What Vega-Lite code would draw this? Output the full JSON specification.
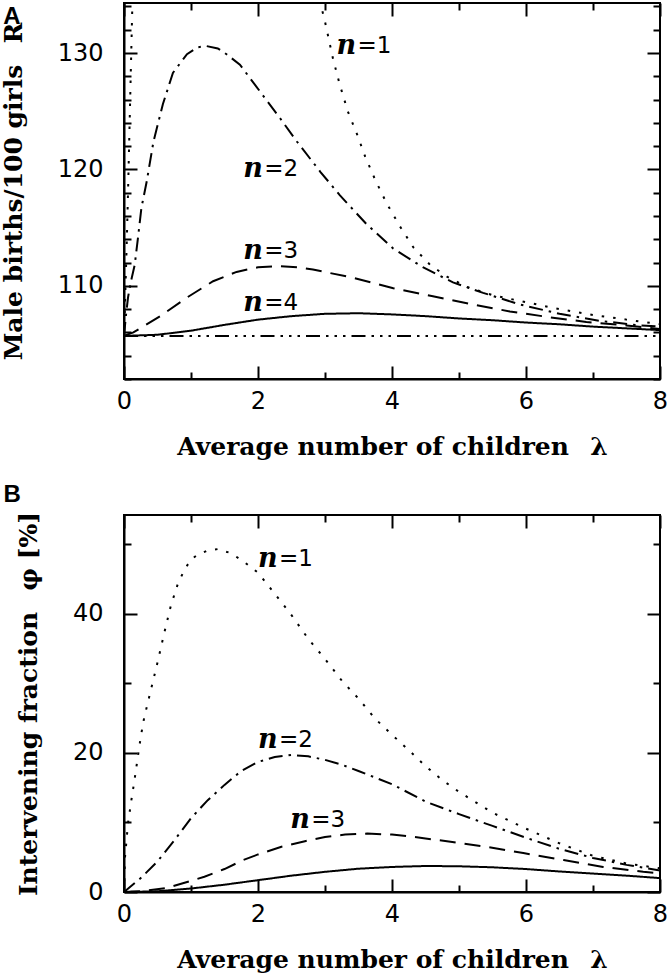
{
  "$schema": "https://vega.github.io/schema/vega-lite/v6.json",
  "background": "white",
  "padding": {"left": 0, "top": 1, "right": 5, "bottom": 0},
  "spacing": 22,
  "config": {
    "view": {"stroke": "black", "strokeWidth": 2},
    "axis": {
      "grid": false,
      "domainColor": "black",
      "domainWidth": 2,
      "tickColor": "black",
      "tickWidth": 2,
      "labelColor": "black",
      "labelFont": "DejaVu Sans",
      "labelFontSize": 24,
      "labelFlush": false,
      "labelOverlap": false,
      "titleColor": "black",
      "titleFont": "DejaVu Serif",
      "titleFontSize": 25,
      "titleFontWeight": "bold"
    }
  },
  "datasets": {
    "curvesA": [
      {"series": "n=1", "lam": 0, "R": 105.7}, {"series": "n=1", "lam": 0.01, "R": 107.5}, {"series": "n=1", "lam": 0.02, "R": 109.5}, {"series": "n=1", "lam": 0.04, "R": 113.5}, {"series": "n=1", "lam": 0.06, "R": 118}, {"series": "n=1", "lam": 0.08, "R": 123}, {"series": "n=1", "lam": 0.1, "R": 128}, {"series": "n=1", "lam": 0.12, "R": 133}, {"series": "n=1", "lam": 0.15, "R": 140}, {"series": "n=1", "lam": 2.85, "R": 140}, {"series": "n=1", "lam": 2.93, "R": 134.3}, {"series": "n=1", "lam": 3.0, "R": 132.7}, {"series": "n=1", "lam": 3.12, "R": 129.5}, {"series": "n=1", "lam": 3.22, "R": 127.3}, {"series": "n=1", "lam": 3.34, "R": 125.0}, {"series": "n=1", "lam": 3.48, "R": 123.0}, {"series": "n=1", "lam": 3.6, "R": 121.1}, {"series": "n=1", "lam": 3.75, "R": 119.1}, {"series": "n=1", "lam": 3.92, "R": 117.1}, {"series": "n=1", "lam": 4.12, "R": 115.1}, {"series": "n=1", "lam": 4.32, "R": 113.3}, {"series": "n=1", "lam": 4.57, "R": 111.8}, {"series": "n=1", "lam": 4.82, "R": 110.8}, {"series": "n=1", "lam": 5.12, "R": 109.9}, {"series": "n=1", "lam": 5.5, "R": 109.2}, {"series": "n=1", "lam": 6.0, "R": 108.6}, {"series": "n=1", "lam": 6.5, "R": 108.0}, {"series": "n=1", "lam": 7.0, "R": 107.5}, {"series": "n=1", "lam": 7.5, "R": 107.1}, {"series": "n=1", "lam": 8.0, "R": 106.7},
      {"series": "n=2", "lam": 0, "R": 105.7}, {"series": "n=2", "lam": 0.03, "R": 107.5}, {"series": "n=2", "lam": 0.06, "R": 109}, {"series": "n=2", "lam": 0.1, "R": 110.3}, {"series": "n=2", "lam": 0.16, "R": 111.8}, {"series": "n=2", "lam": 0.21, "R": 114.2}, {"series": "n=2", "lam": 0.26, "R": 116.7}, {"series": "n=2", "lam": 0.34, "R": 119.0}, {"series": "n=2", "lam": 0.44, "R": 122.4}, {"series": "n=2", "lam": 0.58, "R": 125.6}, {"series": "n=2", "lam": 0.73, "R": 128.3}, {"series": "n=2", "lam": 0.94, "R": 129.9}, {"series": "n=2", "lam": 1.1, "R": 130.5}, {"series": "n=2", "lam": 1.23, "R": 130.6}, {"series": "n=2", "lam": 1.4, "R": 130.4}, {"series": "n=2", "lam": 1.53, "R": 129.9}, {"series": "n=2", "lam": 1.73, "R": 129.0}, {"series": "n=2", "lam": 2.03, "R": 126.7}, {"series": "n=2", "lam": 2.33, "R": 124.4}, {"series": "n=2", "lam": 2.58, "R": 122.4}, {"series": "n=2", "lam": 2.93, "R": 119.8}, {"series": "n=2", "lam": 3.22, "R": 117.8}, {"series": "n=2", "lam": 3.62, "R": 115.3}, {"series": "n=2", "lam": 4.02, "R": 113.2}, {"series": "n=2", "lam": 4.46, "R": 111.6}, {"series": "n=2", "lam": 4.91, "R": 110.3}, {"series": "n=2", "lam": 5.36, "R": 109.4}, {"series": "n=2", "lam": 5.91, "R": 108.4}, {"series": "n=2", "lam": 6.5, "R": 107.6}, {"series": "n=2", "lam": 7.1, "R": 107.0}, {"series": "n=2", "lam": 7.7, "R": 106.6}, {"series": "n=2", "lam": 8.0, "R": 106.5},
      {"series": "n=3", "lam": 0, "R": 105.7}, {"series": "n=3", "lam": 0.14, "R": 106.0}, {"series": "n=3", "lam": 0.54, "R": 107.4}, {"series": "n=3", "lam": 0.94, "R": 109.0}, {"series": "n=3", "lam": 1.33, "R": 110.4}, {"series": "n=3", "lam": 1.68, "R": 111.2}, {"series": "n=3", "lam": 2.0, "R": 111.6}, {"series": "n=3", "lam": 2.3, "R": 111.7}, {"series": "n=3", "lam": 2.6, "R": 111.6}, {"series": "n=3", "lam": 2.82, "R": 111.4}, {"series": "n=3", "lam": 3.42, "R": 110.7}, {"series": "n=3", "lam": 4.02, "R": 109.8}, {"series": "n=3", "lam": 4.61, "R": 109.1}, {"series": "n=3", "lam": 5.21, "R": 108.4}, {"series": "n=3", "lam": 5.76, "R": 107.8}, {"series": "n=3", "lam": 6.36, "R": 107.3}, {"series": "n=3", "lam": 6.9, "R": 106.9}, {"series": "n=3", "lam": 7.5, "R": 106.6}, {"series": "n=3", "lam": 8.0, "R": 106.3},
      {"series": "n=4", "lam": 0, "R": 105.7}, {"series": "n=4", "lam": 0.5, "R": 105.8}, {"series": "n=4", "lam": 1.0, "R": 106.15}, {"series": "n=4", "lam": 1.5, "R": 106.65}, {"series": "n=4", "lam": 2.0, "R": 107.1}, {"series": "n=4", "lam": 2.5, "R": 107.4}, {"series": "n=4", "lam": 3.0, "R": 107.6}, {"series": "n=4", "lam": 3.5, "R": 107.65}, {"series": "n=4", "lam": 4.0, "R": 107.55}, {"series": "n=4", "lam": 4.5, "R": 107.4}, {"series": "n=4", "lam": 5.0, "R": 107.2}, {"series": "n=4", "lam": 5.5, "R": 107.05}, {"series": "n=4", "lam": 6.0, "R": 106.85}, {"series": "n=4", "lam": 6.5, "R": 106.7}, {"series": "n=4", "lam": 7.0, "R": 106.5}, {"series": "n=4", "lam": 7.5, "R": 106.35}, {"series": "n=4", "lam": 8.0, "R": 106.2},
      {"series": "base", "lam": 0, "R": 105.7}, {"series": "base", "lam": 8, "R": 105.7}
    ],
    "curvesB": [
      {"series": "n=1", "lam": 0, "phi": 0}, {"series": "n=1", "lam": 0.015, "phi": 5}, {"series": "n=1", "lam": 0.06, "phi": 9.9}, {"series": "n=1", "lam": 0.11, "phi": 13.2}, {"series": "n=1", "lam": 0.16, "phi": 16.3}, {"series": "n=1", "lam": 0.2, "phi": 19}, {"series": "n=1", "lam": 0.25, "phi": 22.3}, {"series": "n=1", "lam": 0.3, "phi": 25}, {"series": "n=1", "lam": 0.4, "phi": 29}, {"series": "n=1", "lam": 0.5, "phi": 33}, {"series": "n=1", "lam": 0.6, "phi": 37.2}, {"series": "n=1", "lam": 0.7, "phi": 41.2}, {"series": "n=1", "lam": 0.8, "phi": 44.2}, {"series": "n=1", "lam": 0.9, "phi": 46.3}, {"series": "n=1", "lam": 1.0, "phi": 47.8}, {"series": "n=1", "lam": 1.1, "phi": 48.5}, {"series": "n=1", "lam": 1.25, "phi": 49.1}, {"series": "n=1", "lam": 1.4, "phi": 49.3}, {"series": "n=1", "lam": 1.6, "phi": 48.7}, {"series": "n=1", "lam": 1.8, "phi": 47.4}, {"series": "n=1", "lam": 2.0, "phi": 45.9}, {"series": "n=1", "lam": 2.25, "phi": 42.9}, {"series": "n=1", "lam": 2.5, "phi": 39.8}, {"series": "n=1", "lam": 2.75, "phi": 36.4}, {"series": "n=1", "lam": 3.0, "phi": 33.5}, {"series": "n=1", "lam": 3.25, "phi": 30.4}, {"series": "n=1", "lam": 3.5, "phi": 27.8}, {"series": "n=1", "lam": 3.75, "phi": 24.9}, {"series": "n=1", "lam": 4.0, "phi": 22.6}, {"series": "n=1", "lam": 4.25, "phi": 20.4}, {"series": "n=1", "lam": 4.5, "phi": 18.1}, {"series": "n=1", "lam": 4.75, "phi": 16.1}, {"series": "n=1", "lam": 5.0, "phi": 14.4}, {"series": "n=1", "lam": 5.5, "phi": 11.4}, {"series": "n=1", "lam": 6.0, "phi": 9.1}, {"series": "n=1", "lam": 6.5, "phi": 7.0}, {"series": "n=1", "lam": 7.0, "phi": 5.2}, {"series": "n=1", "lam": 7.5, "phi": 4.1}, {"series": "n=1", "lam": 8.0, "phi": 3.4},
      {"series": "n=2", "lam": 0, "phi": 0}, {"series": "n=2", "lam": 0.25, "phi": 2.0}, {"series": "n=2", "lam": 0.5, "phi": 4.4}, {"series": "n=2", "lam": 0.75, "phi": 7.4}, {"series": "n=2", "lam": 1.0, "phi": 10.6}, {"series": "n=2", "lam": 1.25, "phi": 13.2}, {"series": "n=2", "lam": 1.5, "phi": 15.4}, {"series": "n=2", "lam": 1.75, "phi": 17.4}, {"series": "n=2", "lam": 2.0, "phi": 18.7}, {"series": "n=2", "lam": 2.25, "phi": 19.4}, {"series": "n=2", "lam": 2.5, "phi": 19.7}, {"series": "n=2", "lam": 2.75, "phi": 19.5}, {"series": "n=2", "lam": 3.0, "phi": 19.0}, {"series": "n=2", "lam": 3.25, "phi": 18.3}, {"series": "n=2", "lam": 3.5, "phi": 17.4}, {"series": "n=2", "lam": 4.0, "phi": 15.5}, {"series": "n=2", "lam": 4.5, "phi": 13.0}, {"series": "n=2", "lam": 5.0, "phi": 11.2}, {"series": "n=2", "lam": 5.5, "phi": 9.5}, {"series": "n=2", "lam": 6.0, "phi": 7.8}, {"series": "n=2", "lam": 6.5, "phi": 6.2}, {"series": "n=2", "lam": 7.0, "phi": 4.9}, {"series": "n=2", "lam": 7.5, "phi": 3.9}, {"series": "n=2", "lam": 8.0, "phi": 3.1},
      {"series": "n=3", "lam": 0, "phi": 0}, {"series": "n=3", "lam": 0.3, "phi": 0.15}, {"series": "n=3", "lam": 0.63, "phi": 0.55}, {"series": "n=3", "lam": 1.0, "phi": 1.6}, {"series": "n=3", "lam": 1.2, "phi": 2.2}, {"series": "n=3", "lam": 1.5, "phi": 3.3}, {"series": "n=3", "lam": 1.78, "phi": 4.6}, {"series": "n=3", "lam": 2.0, "phi": 5.4}, {"series": "n=3", "lam": 2.35, "phi": 6.5}, {"series": "n=3", "lam": 2.7, "phi": 7.3}, {"series": "n=3", "lam": 3.0, "phi": 7.9}, {"series": "n=3", "lam": 3.3, "phi": 8.25}, {"series": "n=3", "lam": 3.63, "phi": 8.4}, {"series": "n=3", "lam": 4.0, "phi": 8.25}, {"series": "n=3", "lam": 4.26, "phi": 8.0}, {"series": "n=3", "lam": 4.5, "phi": 7.7}, {"series": "n=3", "lam": 4.9, "phi": 7.2}, {"series": "n=3", "lam": 5.41, "phi": 6.5}, {"series": "n=3", "lam": 5.96, "phi": 5.6}, {"series": "n=3", "lam": 6.56, "phi": 4.6}, {"series": "n=3", "lam": 7.15, "phi": 3.6}, {"series": "n=3", "lam": 7.75, "phi": 2.9}, {"series": "n=3", "lam": 8.0, "phi": 2.7},
      {"series": "n=4", "lam": 0, "phi": 0}, {"series": "n=4", "lam": 0.5, "phi": 0.1}, {"series": "n=4", "lam": 1.0, "phi": 0.5}, {"series": "n=4", "lam": 1.5, "phi": 1.05}, {"series": "n=4", "lam": 2.0, "phi": 1.7}, {"series": "n=4", "lam": 2.5, "phi": 2.35}, {"series": "n=4", "lam": 3.0, "phi": 2.9}, {"series": "n=4", "lam": 3.5, "phi": 3.35}, {"series": "n=4", "lam": 4.0, "phi": 3.6}, {"series": "n=4", "lam": 4.5, "phi": 3.74}, {"series": "n=4", "lam": 5.0, "phi": 3.7}, {"series": "n=4", "lam": 5.5, "phi": 3.55}, {"series": "n=4", "lam": 6.0, "phi": 3.3}, {"series": "n=4", "lam": 6.5, "phi": 2.95}, {"series": "n=4", "lam": 7.0, "phi": 2.65}, {"series": "n=4", "lam": 7.5, "phi": 2.35}, {"series": "n=4", "lam": 8.0, "phi": 2.0}
    ],
    "labelsA": [
      {"lam": 3.17, "R": 130.6, "k": "=1"},
      {"lam": 1.78, "R": 120.0, "k": "=2"},
      {"lam": 1.78, "R": 113.0, "k": "=3"},
      {"lam": 1.78, "R": 108.5, "k": "=4"}
    ],
    "labelsB": [
      {"lam": 2.0, "phi": 47.9, "k": "=1"},
      {"lam": 2.0, "phi": 21.8, "k": "=2"},
      {"lam": 2.48, "phi": 10.3, "k": "=3"}
    ]
  },
  "vconcat": [
    {
      "width": 536,
      "height": 376,
      "title": {"text": "A", "anchor": "start", "frame": "bounds", "font": "Liberation Sans", "fontSize": 24, "fontWeight": "bold", "color": "black", "baseline": "top", "offset": -28, "dx": 2, "dy": -1},
      "layer": [
        {
          "data": {"name": "curvesA"},
          "mark": {"type": "line", "clip": true, "strokeWidth": 2, "color": "black"},
          "encoding": {
            "x": {"field": "lam", "type": "quantitative", "scale": {"domain": [0, 8], "nice": false},
              "axis": {"orient": "bottom", "values": [0, 1, 2, 3, 4, 5, 6, 7, 8], "labelExpr": "datum.value % 2 === 0 ? datum.label : ''",
                "tickSize": {"condition": {"test": "datum.value % 2 === 0", "value": -13}, "value": -7},
                "labelPadding": 23, "title": "Average number of children\u2002 λ", "titlePadding": 15}},
            "y": {"field": "R", "type": "quantitative", "scale": {"domain": [102, 134.3], "nice": false, "zero": false},
              "axis": {"orient": "left", "values": [102, 104, 106, 108, 110, 112, 114, 116, 118, 120, 122, 124, 126, 128, 130, 132, 134], "labelExpr": "datum.value % 10 === 0 ? datum.label : ''",
                "labelFontSize": {"condition": {"test": "datum.value % 10 === 0", "value": 24}, "value": 0},
                "tickSize": {"condition": {"test": "datum.value % 10 === 0", "value": -13}, "value": -7},
                "labelPadding": 34, "title": "Male births/100 girls\u2002 R", "titlePadding": 31}},
            "detail": {"field": "series", "type": "nominal"},
            "strokeDash": {"field": "series", "type": "nominal", "legend": null,
              "scale": {"domain": ["n=1", "n=2", "n=3", "n=4", "base"], "range": [[2.5, 9], [14, 6, 2.5, 6], [16, 9], [1, 0], [14, 6, 2.5, 6, 2.5, 6, 2.5, 6]]}}
          }
        },
        {
          "data": {"name": "labelsA"},
          "mark": {"type": "text", "text": "n", "align": "left", "baseline": "middle", "font": "DejaVu Serif", "fontSize": 27, "fontWeight": "bold", "fontStyle": "italic", "color": "black"},
          "encoding": {
            "x": {"field": "lam", "type": "quantitative", "scale": {"domain": [0, 8], "nice": false},
              "axis": {"orient": "top", "values": [0, 1, 2, 3, 4, 5, 6, 7, 8], "labels": false, "title": null, "domain": false, "minExtent": 0, "maxExtent": 0,
                "tickSize": {"condition": {"test": "datum.value % 2 === 0", "value": -13}, "value": -7}}},
            "y": {"field": "R", "type": "quantitative", "scale": {"domain": [102, 134.3], "nice": false, "zero": false},
              "axis": {"orient": "right", "values": [102, 104, 106, 108, 110, 112, 114, 116, 118, 120, 122, 124, 126, 128, 130, 132, 134], "labels": false, "title": null, "domain": false, "minExtent": 0, "maxExtent": 0,
                "tickSize": {"condition": {"test": "datum.value % 10 === 0", "value": -13}, "value": -7}}}
          }
        },
        {
          "data": {"name": "labelsA"},
          "mark": {"type": "text", "align": "left", "baseline": "middle", "dx": 21, "font": "DejaVu Sans", "fontSize": 23, "color": "black"},
          "encoding": {
            "x": {"field": "lam", "type": "quantitative", "axis": null},
            "y": {"field": "R", "type": "quantitative", "axis": null},
            "text": {"field": "k"}
          }
        }
      ],
      "resolve": {"axis": {"x": "independent", "y": "independent"}}
    },
    {
      "width": 536,
      "height": 377,
      "title": {"text": "B", "anchor": "start", "frame": "bounds", "font": "Liberation Sans", "fontSize": 24, "fontWeight": "bold", "color": "black", "baseline": "top", "offset": 4, "dx": -13},
      "layer": [
        {
          "data": {"name": "curvesB"},
          "mark": {"type": "line", "clip": true, "strokeWidth": 2, "color": "black"},
          "encoding": {
            "x": {"field": "lam", "type": "quantitative", "scale": {"domain": [0, 8], "nice": false},
              "axis": {"orient": "bottom", "values": [0, 1, 2, 3, 4, 5, 6, 7, 8], "labelExpr": "datum.value % 2 === 0 ? datum.label : ''",
                "tickSize": {"condition": {"test": "datum.value % 2 === 0", "value": -13}, "value": -7},
                "labelPadding": 23, "title": "Average number of children\u2002 λ", "titlePadding": 15}},
            "y": {"field": "phi", "type": "quantitative", "scale": {"domain": [0, 54.2], "nice": false},
              "axis": {"orient": "left", "values": [0, 10, 20, 30, 40, 50], "labelExpr": "datum.value % 20 === 0 ? datum.label : ''",
                "labelFontSize": {"condition": {"test": "datum.value % 20 === 0", "value": 24}, "value": 0},
                "tickSize": {"condition": {"test": "datum.value % 20 === 0", "value": -13}, "value": -7},
                "labelPadding": 34, "title": "Intervening fraction\u2002 φ [%]", "titlePadding": 31}},
            "detail": {"field": "series", "type": "nominal"},
            "strokeDash": {"field": "series", "type": "nominal", "legend": null,
              "scale": {"domain": ["n=1", "n=2", "n=3", "n=4", "base"], "range": [[2.5, 9], [14, 6, 2.5, 6], [16, 9], [1, 0], [14, 6, 2.5, 6, 2.5, 6, 2.5, 6]]}}
          }
        },
        {
          "data": {"name": "labelsB"},
          "mark": {"type": "text", "text": "n", "align": "left", "baseline": "middle", "font": "DejaVu Serif", "fontSize": 27, "fontWeight": "bold", "fontStyle": "italic", "color": "black"},
          "encoding": {
            "x": {"field": "lam", "type": "quantitative", "scale": {"domain": [0, 8], "nice": false},
              "axis": {"orient": "top", "values": [0, 1, 2, 3, 4, 5, 6, 7, 8], "labels": false, "title": null, "domain": false, "minExtent": 0, "maxExtent": 0,
                "tickSize": {"condition": {"test": "datum.value % 2 === 0", "value": -13}, "value": -7}}},
            "y": {"field": "phi", "type": "quantitative", "scale": {"domain": [0, 54.2], "nice": false},
              "axis": {"orient": "right", "values": [0, 10, 20, 30, 40, 50], "labels": false, "title": null, "domain": false, "minExtent": 0, "maxExtent": 0,
                "tickSize": {"condition": {"test": "datum.value % 20 === 0", "value": -13}, "value": -7}}}
          }
        },
        {
          "data": {"name": "labelsB"},
          "mark": {"type": "text", "align": "left", "baseline": "middle", "dx": 21, "font": "DejaVu Sans", "fontSize": 23, "color": "black"},
          "encoding": {
            "x": {"field": "lam", "type": "quantitative", "axis": null},
            "y": {"field": "phi", "type": "quantitative", "axis": null},
            "text": {"field": "k"}
          }
        }
      ],
      "resolve": {"axis": {"x": "independent", "y": "independent"}}
    }
  ]
}
